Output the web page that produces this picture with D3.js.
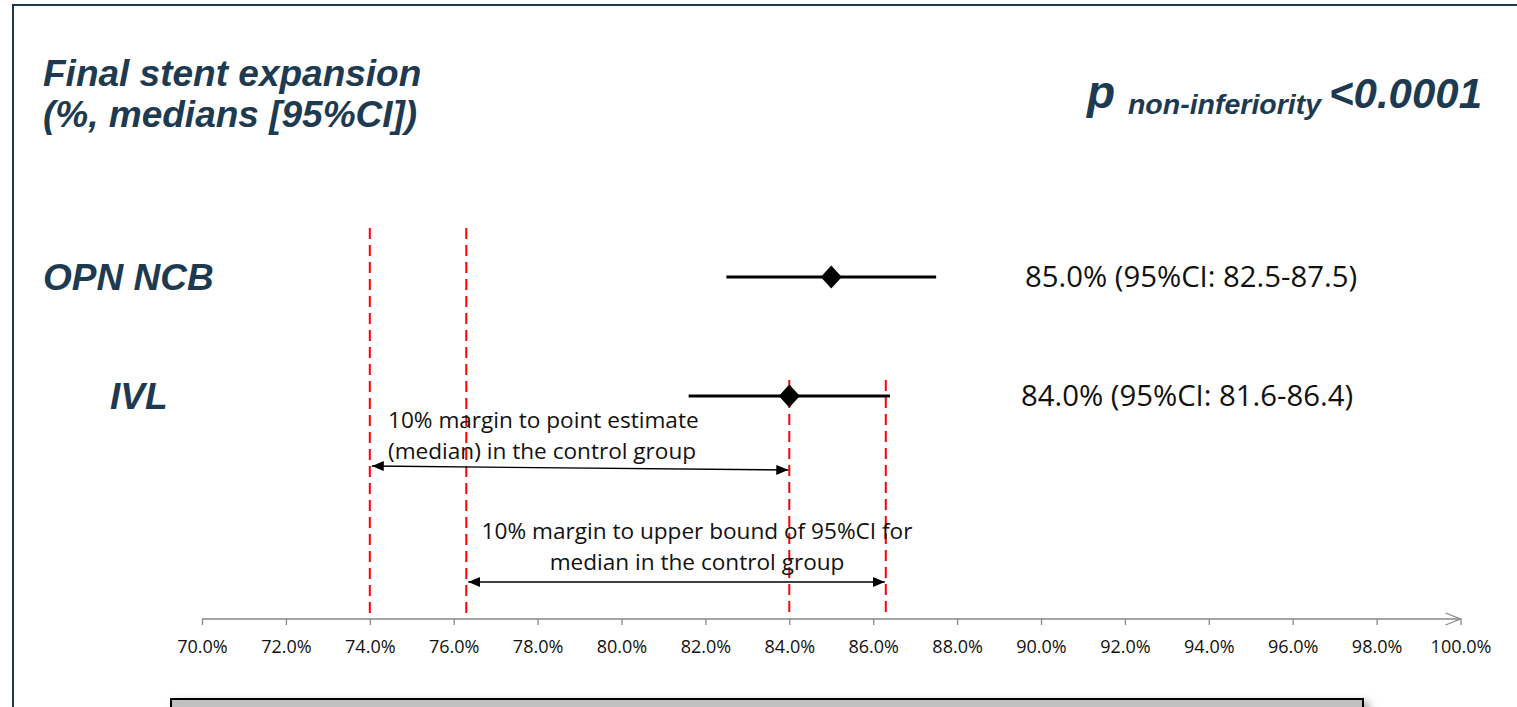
<!DOCTYPE html>
<html>
<head>
<meta charset="utf-8">
<script src="https://cdn.jsdelivr.net/npm/d3@7"></script>
<style>
  html, body { margin: 0; padding: 0; background: #ffffff; }
  svg { display: block; }
</style>
</head>
<body>
<svg id="chart" width="1517" height="707"></svg>
<script>
// Groups shown as rows of the forest plot
const groups = ["OPN NCB", "IVL"];
// Median final stent expansion (%) and its 95% CI
const medians = [85.0, 84.0];
const ciLow = [82.5, 81.6];
const ciHigh = [87.5, 86.4];
// Non-inferiority reference lines (%): margins and control-group values
const marginLines = [74.0, 76.3];
const controlLines = [84.0, 86.3];
// Axis ticks (%)
const tickValues = [70, 72, 74, 76, 78, 80, 82, 84, 86, 88, 90, 92, 94, 96, 98, 100];
const titleLines = ["Final stent expansion", "(%, medians [95%CI])"];
const annotations = [
  { lines: ["10% margin to point estimate", "(median) in the control group"], from: 74.0, to: 84.0, anchor: "start" },
  { lines: ["10% margin to upper bound of 95%CI for", "median in the control group"], from: 76.3, to: 86.3, anchor: "middle" }
];

const navy = "#1d3a51";
const svg = d3.select("#chart");

const x = d3.scaleLinear().domain([70, 100]).range([202, 1460.5]);
const y = d3.scalePoint().domain(groups).range([277, 396]);
const axisY = 619;

// Frame lines
svg.append("line").attr("x1", 12).attr("x2", 1517).attr("y1", 5).attr("y2", 5)
  .attr("stroke", navy).attr("stroke-width", 2);
svg.append("line").attr("x1", 13).attr("x2", 13).attr("y1", 4).attr("y2", 707)
  .attr("stroke", navy).attr("stroke-width", 2);

// Title
svg.append("text")
  .attr("x", 43).attr("y", 86)
  .attr("font-family", "'Liberation Sans', Arial, sans-serif")
  .attr("font-weight", "bold").attr("font-style", "italic")
  .attr("font-size", 37).attr("fill", navy)
  .selectAll("tspan").data(titleLines).join("tspan")
  .attr("x", 43).attr("dy", (d, i) => i === 0 ? 0 : 41)
  .text(d => d);

// p-value
const pText = svg.append("text")
  .attr("x", 1482).attr("y", 108)
  .attr("text-anchor", "end")
  .attr("font-family", "'Liberation Sans', Arial, sans-serif")
  .attr("font-weight", "bold").attr("font-style", "italic")
  .attr("fill", navy);
pText.append("tspan").attr("font-size", 46).text("p ");
pText.append("tspan").attr("font-size", 28.5).attr("dy", 6).text("non-inferiority ");
pText.append("tspan").attr("font-size", 42).attr("dy", -6).text("<0.0001");

// Row labels
const rowLabelX = { "OPN NCB": 43, "IVL": 110 };
svg.append("g").selectAll("text").data(groups).join("text")
  .attr("x", d => rowLabelX[d])
  .attr("y", d => y(d) + 13)
  .attr("font-family", "'Liberation Sans', Arial, sans-serif")
  .attr("font-weight", "bold").attr("font-style", "italic")
  .attr("font-size", 37).attr("fill", navy)
  .text(d => d);

// Dashed reference lines
const dashed = svg.append("g")
  .attr("stroke", "#ff0000").attr("stroke-width", 2).attr("stroke-dasharray", "11,6");
dashed.selectAll("line.margin").data(marginLines).join("line")
  .attr("class", "margin")
  .attr("x1", d => x(d)).attr("x2", d => x(d))
  .attr("y1", y(groups[0]) - 49).attr("y2", axisY - 3);
dashed.selectAll("line.control").data(controlLines).join("line")
  .attr("class", "control")
  .attr("x1", d => x(d)).attr("x2", d => x(d))
  .attr("y1", y(groups[1]) - 16).attr("y2", axisY - 6);

// Confidence interval bars and median diamonds
const rows = groups.map((g, i) => ({ g, m: medians[i], lo: ciLow[i], hi: ciHigh[i] }));
svg.append("g").selectAll("line").data(rows).join("line")
  .attr("x1", d => x(d.lo)).attr("x2", d => x(d.hi))
  .attr("y1", d => y(d.g)).attr("y2", d => y(d.g))
  .attr("stroke", "#000").attr("stroke-width", 3);
svg.append("g").selectAll("path").data(rows).join("path")
  .attr("transform", d => `translate(${x(d.m)},${y(d.g)})`)
  .attr("d", "M0,-11.5L10.5,0L0,11.5L-10.5,0Z")
  .attr("fill", "#000");

// Value labels
svg.append("g").selectAll("text").data(rows).join("text")
  .attr("x", (d, i) => i === 0 ? 1025 : 1021)
  .attr("y", d => y(d.g) + 10)
  .attr("font-family", "'Open Sans', sans-serif")
  .attr("font-size", 29.3).attr("fill", "#111")
  .text(d => `${d.m.toFixed(1)}% (95%CI: ${d.lo.toFixed(1)}-${d.hi.toFixed(1)})`);

// Margin annotations with double-headed arrows
const defs = svg.append("defs");
["arrowEnd", "arrowStart"].forEach((id, k) => {
  defs.append("marker").attr("id", id)
    .attr("viewBox", "0 0 12 10").attr("refX", k === 0 ? 12 : 0).attr("refY", 5)
    .attr("markerWidth", 12).attr("markerHeight", 10).attr("markerUnits", "userSpaceOnUse")
    .attr("orient", "auto")
    .append("path")
    .attr("d", k === 0 ? "M0,0L12,5L0,10Z" : "M12,0L0,5L12,10Z")
    .attr("fill", "#000");
});
const annotY = [{ text: 428, arrow0: 466, arrow1: 470 }, { text: 539, arrow0: 582, arrow1: 582 }];
annotations.forEach((a, i) => {
  const tx = a.anchor === "start" ? 388 : (x(a.from) + x(a.to)) / 2 + 21;
  svg.append("text")
    .attr("x", tx).attr("y", annotY[i].text)
    .attr("text-anchor", a.anchor)
    .attr("font-family", "'Open Sans', sans-serif")
    .attr("font-size", 22.6).attr("fill", "#111")
    .selectAll("tspan").data(a.lines).join("tspan")
    .attr("x", tx).attr("dy", (d, j) => j === 0 ? 0 : 31)
    .text(d => d);
  svg.append("line")
    .attr("x1", x(a.from) + 2).attr("x2", x(a.to) - 1)
    .attr("y1", annotY[i].arrow0).attr("y2", annotY[i].arrow1)
    .attr("stroke", "#000").attr("stroke-width", 1.3)
    .attr("marker-start", "url(#arrowStart)")
    .attr("marker-end", "url(#arrowEnd)");
});

// X axis
const axis = svg.append("g")
  .attr("transform", `translate(0,${axisY})`)
  .call(d3.axisBottom(x).tickValues(tickValues).tickSize(6).tickPadding(15)
    .tickFormat(d => d.toFixed(1) + "%"));
axis.select(".domain").remove();
axis.append("line").attr("x1", x(70)).attr("x2", x(100))
  .attr("stroke", "#888").attr("stroke-width", 1.5);
axis.append("path").attr("d", `M${x(100) - 15},-6L${x(100)},0L${x(100) - 15},6`)
  .attr("fill", "none").attr("stroke", "#888").attr("stroke-width", 1.3);
axis.selectAll(".tick line").attr("stroke", "#888").attr("stroke-width", 1.3);
axis.selectAll(".tick text")
  .attr("font-family", "'Open Sans', sans-serif")
  .attr("font-size", 18).attr("fill", "#111");

// Grey panel at the bottom with shadow
const shadow = defs.append("filter").attr("id", "shadow")
  .attr("x", "-5%").attr("y", "-50%").attr("width", "110%").attr("height", "200%");
shadow.append("feDropShadow").attr("dx", 5).attr("dy", 4).attr("stdDeviation", 4)
  .attr("flood-color", "#000").attr("flood-opacity", 0.35);
svg.append("rect")
  .attr("x", 171).attr("y", 699).attr("width", 1192).attr("height", 30)
  .attr("fill", "#c0c0c0").attr("stroke", "#000").attr("stroke-width", 2)
  .attr("filter", "url(#shadow)");
</script>
</body>
</html>
